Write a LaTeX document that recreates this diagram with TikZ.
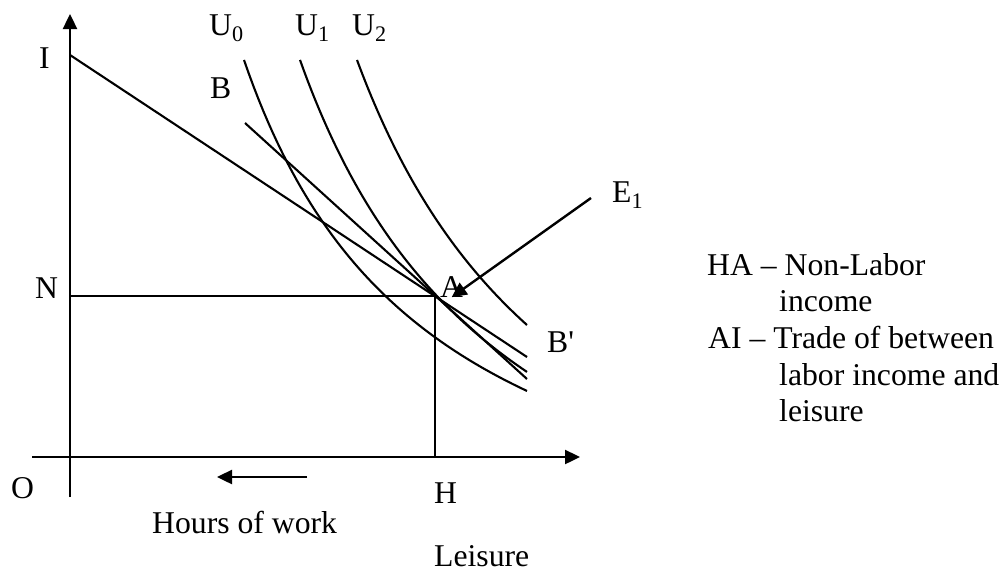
\documentclass[tikz,border=0pt]{standalone}
\usepackage{fontspec}
\setmainfont{Liberation Serif}
\usetikzlibrary{arrows.meta}

\begin{document}
\begin{tikzpicture}[x=1pt,y=-1pt,>={Triangle[length=15pt,width=14pt]},
  font=\fontsize{31.7}{38}\selectfont,
  lbl/.style={anchor=base west,inner sep=0pt},
  curve/.style={line width=2.1pt},
  axis/.style={line width=2.4pt}]
\useasboundingbox (0,0) rectangle (1007,571);
% points of the plot
\coordinate (o) at (70,457);
\coordinate (ytop) at (70,14);
\coordinate (ybot) at (70,497);
\coordinate (xleft) at (32,457);
\coordinate (xright) at (580,457);
\coordinate (i) at (70,55);
\coordinate (ie) at (527,357);
\coordinate (bs) at (245,123);
\coordinate (be) at (527,379);
\coordinate (n) at (70,296);
\coordinate (a) at (435,296);
\coordinate (h) at (435,457);
\coordinate (e) at (591,198);
\coordinate (ws) at (307,477);
\coordinate (we) at (217,477);
% labels
\node[lbl] (lI) at (39,68) {I};
\node[lbl] (lB) at (210,98) {B};
\node[lbl] (lU0) at (209,35) {U\textsubscript{0}};
\node[lbl] (lU1) at (295,35) {U\textsubscript{1}};
\node[lbl] (lU2) at (352,35) {U\textsubscript{2}};
\node[lbl] (lE) at (612,202) {E\textsubscript{1}};
\node[lbl] (lN) at (35,298) {N};
\node[lbl] (lA) at (440,297) {A};
\node[lbl] (lBp) at (547,352) {B\textquotesingle};
\node[lbl] (lO) at (11,498) {O};
\node[lbl] (lH) at (434,503) {H};
\node[lbl] (lW) at (152,533) {Hours of work};
\node[lbl] (lL) at (434,566) {Leisure};
% key on the right
\node[lbl] (k1) at (707,275) {HA -- Non-Labor};
\node[lbl] (k2) at (779,311) {income};
\node[lbl] (k3) at (708,348) {AI -- Trade of between};
\node[lbl] (k4) at (779,385) {labor income and};
\node[lbl] (k5) at (779,421) {leisure};
% axes
\draw[axis,->] (ybot) -- (ytop);
\draw[axis,->] (xleft) -- (xright);
% budget lines
\draw[curve] (i) -- (ie);
\draw[curve] (bs) -- (be);
\draw[curve] (n) -- (a) -- (h);
% indifference curves
\draw[curve,domain=244:527,samples=60] plot (\x,{613.4-105.26*(1000/(\x-53.8))});
\draw[curve,domain=300:527,samples=60] plot (\x,{670.6-132.7*(1000/(\x-82.7))});
\draw[curve,domain=357:527,samples=60] plot (\x,{686.7-145.4*(1000/(\x-125))});
% arrows
\draw[axis,->] (e) -- (lA.south);
\draw[axis,->] (ws) -- (we);
\end{tikzpicture}
\end{document}
